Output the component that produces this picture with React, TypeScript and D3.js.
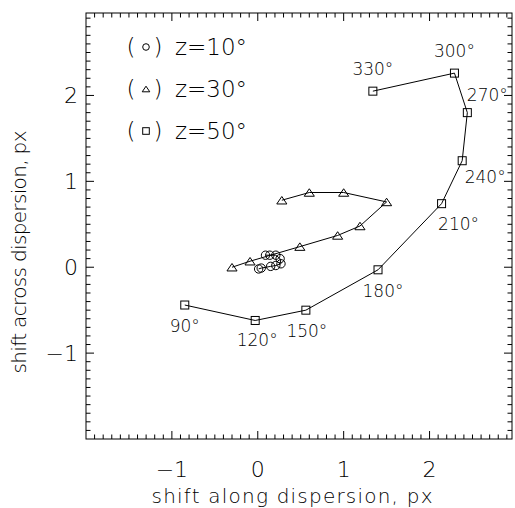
import React from "react";
import * as d3 from "d3";

// z = 10 deg (circles)
const circleX = [0.01, 0.04, 0.15, 0.21, 0.27, 0.26, 0.21, 0.14, 0.09];
const circleY = [-0.02, -0.01, 0.01, 0.02, 0.04, 0.1, 0.14, 0.14, 0.14];
// z = 30 deg (triangles)
const triX = [-0.3, -0.09, 0.49, 0.93, 1.19, 1.5, 1.0, 0.6, 0.28];
const triY = [0.0, 0.07, 0.24, 0.37, 0.48, 0.76, 0.87, 0.87, 0.78];
// z = 50 deg (squares)
const sqX = [-0.85, -0.03, 0.56, 1.4, 2.14, 2.38, 2.44, 2.29, 1.34];
const sqY = [-0.44, -0.62, -0.5, -0.03, 0.74, 1.24, 1.8, 2.26, 2.05];
const angleLabels = ["90°", "120°", "150°", "180°", "210°", "240°", "270°", "300°", "330°"];
const legendLabels = ["z=10°", "z=30°", "z=50°"];
const xTicks = [-1, 0, 1, 2];
const yTicks = [-1, 0, 1, 2];

// label offsets (px) relative to each square
const labelDx = [0, 2, 1, 5, 17, 23, 20, 0, 0];
const labelDy = [27, 26, 27, 27, 26, 22, -12, -16, -16];

const W = 515;
const H = 508;
const left = 86, right = 512, top = 13, bottom = 439;
const font = "'DejaVu Sans', sans-serif";

const x = d3.scaleLinear().domain([-2, 2.96]).range([left, right]);
const y = d3.scaleLinear().domain([-2, 2.96]).range([bottom, top]);

const zip = (xs: number[], ys: number[]) => xs.map((v, i) => [v, ys[i]] as [number, number]);
const line = d3.line<[number, number]>().x((d) => x(d[0])).y((d) => y(d[1]));

function Marker({ kind, cx, cy, s }: { kind: string; cx: number; cy: number; s: number }) {
  if (kind === "circle") return <circle cx={cx} cy={cy} r={s} fill="none" stroke="#000" strokeWidth={1} />;
  if (kind === "square")
    return <rect x={cx - s} y={cy - s} width={2 * s} height={2 * s} fill="none" stroke="#000" strokeWidth={1} />;
  const h = s * 1.7;
  return (
    <path
      d={`M${cx - s * 1.15},${cy + h / 2}L${cx + s * 1.15},${cy + h / 2}L${cx},${cy - h / 2}Z`}
      fill="none"
      stroke="#000"
      strokeWidth={1}
    />
  );
}

export default function App() {
  const minorX = d3.range(-1.9, 2.96, 0.1).map((v) => +v.toFixed(2));
  const minorY = minorX;
  const isMajor = (v: number) => Math.abs(v - Math.round(v)) < 1e-6;
  const series = [
    { kind: "circle", pts: zip(circleX, circleY), s: 4.2 },
    { kind: "triangle", pts: zip(triX, triY), s: 4.4 },
    { kind: "square", pts: zip(sqX, sqY), s: 4 },
  ];
  const legendKinds = ["circle", "triangle", "square"];

  return (
    <svg
      width={W}
      height={H}
      style={{ position: "absolute", left: 0, top: 0 }}
      fontFamily={font}
      fontWeight={200}
    >
      <rect x={0} y={0} width={W} height={H} fill="#fff" />
      <rect x={left} y={top} width={right - left} height={bottom - top} fill="none" stroke="#000" strokeWidth={1} />
      {minorX.map((v) => {
        const len = isMajor(v) ? 8 : 4.5;
        return (
          <g key={"tx" + v} stroke="#000" strokeWidth={1}>
            <line x1={x(v)} x2={x(v)} y1={bottom} y2={bottom - len} />
            <line x1={x(v)} x2={x(v)} y1={top} y2={top + len} />
          </g>
        );
      })}
      {minorY.map((v) => {
        const len = isMajor(v) ? 8 : 4.5;
        return (
          <g key={"ty" + v} stroke="#000" strokeWidth={1}>
            <line y1={y(v)} y2={y(v)} x1={left} x2={left + len} />
            <line y1={y(v)} y2={y(v)} x1={right} x2={right - len} />
          </g>
        );
      })}
      {xTicks.map((t) => (
        <text key={"xl" + t} x={x(t)} y={477} textAnchor="middle" fontSize={22} fill="#000">
          {t < 0 ? "\u2212" + Math.abs(t) : t}
        </text>
      ))}
      {yTicks.map((t) => (
        <text key={"yl" + t} x={78} y={y(t) + 8} textAnchor="end" fontSize={22} fill="#000">
          {t < 0 ? "\u2212" + Math.abs(t) : t}
        </text>
      ))}
      <text x={292} y={503} textAnchor="middle" fontSize={20} textLength={281} lengthAdjust="spacing">
        shift along dispersion, px
      </text>
      <text
        transform={`translate(26,252) rotate(-90)`}
        textAnchor="middle"
        fontSize={20}
        textLength={243}
        lengthAdjust="spacing"
      >
        shift across dispersion, px
      </text>

      {series.map((sr) => (
        <g key={sr.kind}>
          <path d={line(sr.pts) || ""} fill="none" stroke="#000" strokeWidth={1} />
          {sr.pts.map((p, i) => (
            <Marker key={i} kind={sr.kind} cx={x(p[0])} cy={y(p[1])} s={sr.s} />
          ))}
        </g>
      ))}
      {sqX.map((v, i) => (
        <text
          key={"al" + i}
          x={x(v) + labelDx[i]}
          y={y(sqY[i]) + labelDy[i]}
          textAnchor="middle"
          fontSize={17}
          fill="#000"
        >
          {angleLabels[i]}
        </text>
      ))}

      {legendLabels.map((l, i) => {
        const cy = 47 + i * 42;
        return (
          <g key={l}>
            <text x={131} y={cy + 8} fontSize={23} textAnchor="middle">(</text>
            <Marker kind={legendKinds[i]} cx={146} cy={cy} s={3.3} />
            <text x={158} y={cy + 8} fontSize={23} textAnchor="middle">)</text>
            <text x={175} y={cy + 8} fontSize={23}>{l}</text>
          </g>
        );
      })}
    </svg>
  );
}
